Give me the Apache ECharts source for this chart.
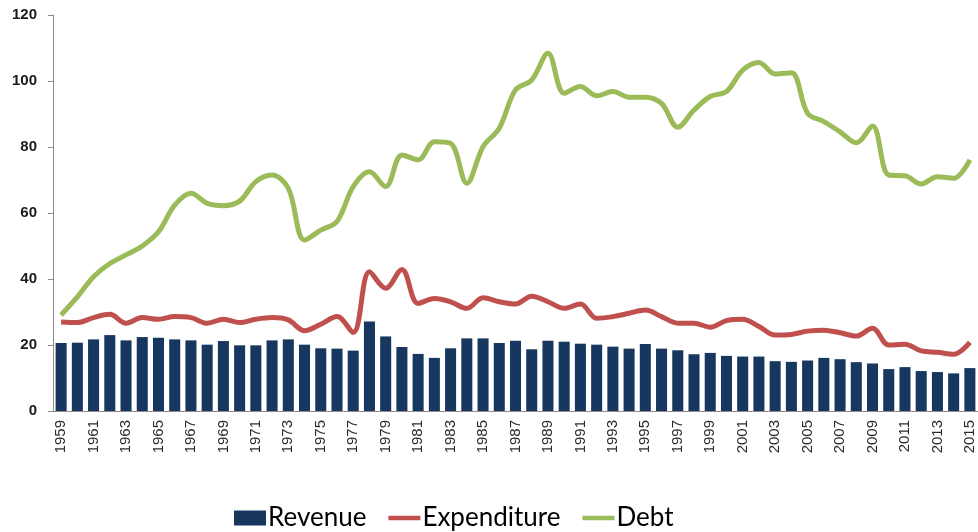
<!DOCTYPE html>
<html>
<head>
<meta charset="utf-8">
<script src="https://cdn.jsdelivr.net/npm/echarts@6/dist/echarts.min.js"></script>
<style>
  html, body { margin: 0; padding: 0; background: #fff; }
  #chart { width: 978px; height: 532px; }
</style>
</head>
<body>
<div id="chart"></div>
<script>
// years 1959 - 2015
var years = [];
for (var y = 1959; y <= 2015; y++) years.push(String(y));

var revenue = [
  20.6, 20.7, 21.7, 23.0, 21.4, 22.4, 22.2, 21.7, 21.4, 20.1,
  21.2, 19.9, 19.9, 21.4, 21.7, 20.1, 19.0, 18.9, 18.3, 27.1,
  22.6, 19.4, 17.3, 16.1, 19.0, 22.0, 22.0, 20.6, 21.3, 18.7,
  21.3, 21.0, 20.4, 20.1, 19.5, 18.9, 20.3, 18.9, 18.4, 17.2,
  17.6, 16.7, 16.5, 16.5, 15.1, 14.9, 15.3, 16.1, 15.7, 14.8,
  14.4, 12.7, 13.3, 12.1, 11.8, 11.4, 13.0
];

var expenditure = [
  27.0, 26.8, 28.3, 29.3, 26.6, 28.3, 27.8, 28.6, 28.3, 26.6,
  27.8, 26.8, 27.8, 28.3, 27.6, 24.3, 26.3, 28.6, 23.8, 42.2,
  37.2, 42.9, 32.6, 34.1, 33.1, 31.1, 34.3, 33.1, 32.4, 34.8,
  33.1, 31.1, 32.4, 28.1, 28.6, 29.6, 30.6, 28.6, 26.6, 26.6,
  25.4, 27.4, 27.8, 25.6, 23.0, 23.2, 24.2, 24.5, 23.7, 22.7,
  25.1, 20.0, 20.2, 18.2, 17.8, 17.2, 20.8
];

var debt = [
  29.1, 34.6, 40.7, 44.7, 47.3, 50.0, 54.3, 62.4, 66.0, 62.9,
  62.2, 63.6, 69.5, 71.5, 67.5, 51.8, 54.8, 57.4, 68.0, 72.5,
  68.0, 77.6, 76.1, 81.6, 81.1, 69.0, 80.1, 85.7, 97.3, 100.3,
  108.4, 96.3, 98.3, 95.5, 96.8, 95.1, 95.1, 93.2, 86.0, 91.2,
  95.3, 96.8, 103.3, 105.6, 102.1, 102.5, 90.2, 87.7, 84.6, 81.3,
  86.4, 71.5, 71.3, 68.8, 71.0, 70.5, 76.1
];

var colors = ['#17375E', '#C0504D', '#9BBB59'];
// flat line icon for the two line series
var lineIcon = 'path://M0,0 M34,0 M0,15 M34,15 M0,5 L34,5 L34,10 L0,10 Z';

var chart = echarts.init(document.getElementById('chart'));
chart.setOption({
  animation: false,
  color: colors,
  grid: { left: 53, right: -3, top: 15, bottom: 121 },
  legend: {
    left: 229,
    top: 500,
    itemWidth: 32,
    itemHeight: 15,
    itemGap: 22,
    textStyle: { fontFamily: 'Lato', fontSize: 26, color: '#000', padding: [0, 0, 0, -3] },
    data: [
      { name: 'Revenue', icon: 'rect', itemStyle: { color: colors[0] } },
      { name: 'Expenditure', icon: lineIcon, itemStyle: { color: colors[1] } },
      { name: 'Debt', icon: lineIcon, itemStyle: { color: colors[2] } }
    ]
  },
  xAxis: {
    type: 'category',
    data: years,
    axisLine: { lineStyle: { color: '#8c8c8c' } },
    axisTick: { interval: 0, length: 5, lineStyle: { color: '#8c8c8c' } },
    axisLabel: {
      interval: 1,
      rotate: 90,
      margin: 9,
      fontFamily: 'Liberation Sans',
      fontSize: 15,
      color: '#2b2b2b'
    }
  },
  yAxis: {
    type: 'value',
    min: 0,
    max: 120,
    interval: 20,
    splitLine: { show: false },
    axisLine: { show: true, lineStyle: { color: '#8c8c8c' } },
    axisTick: { show: true, length: 5, lineStyle: { color: '#8c8c8c' } },
    axisLabel: {
      margin: 16,
      fontFamily: 'Liberation Sans',
      fontWeight: 'bold',
      fontSize: 15,
      color: '#1a1a1a'
    }
  },
  series: [
    {
      name: 'Revenue',
      type: 'bar',
      data: revenue,
      barCategoryGap: '32%',
      itemStyle: { color: colors[0] }
    },
    {
      name: 'Expenditure',
      type: 'line',
      data: expenditure,
      smooth: 0.35,
      symbol: 'none',
      itemStyle: { color: colors[1] },
      lineStyle: { width: 5, color: colors[1] }
    },
    {
      name: 'Debt',
      type: 'line',
      data: debt,
      smooth: 0.35,
      symbol: 'none',
      itemStyle: { color: colors[2] },
      lineStyle: { width: 5, color: colors[2] }
    }
  ]
});
</script>
</body>
</html>
